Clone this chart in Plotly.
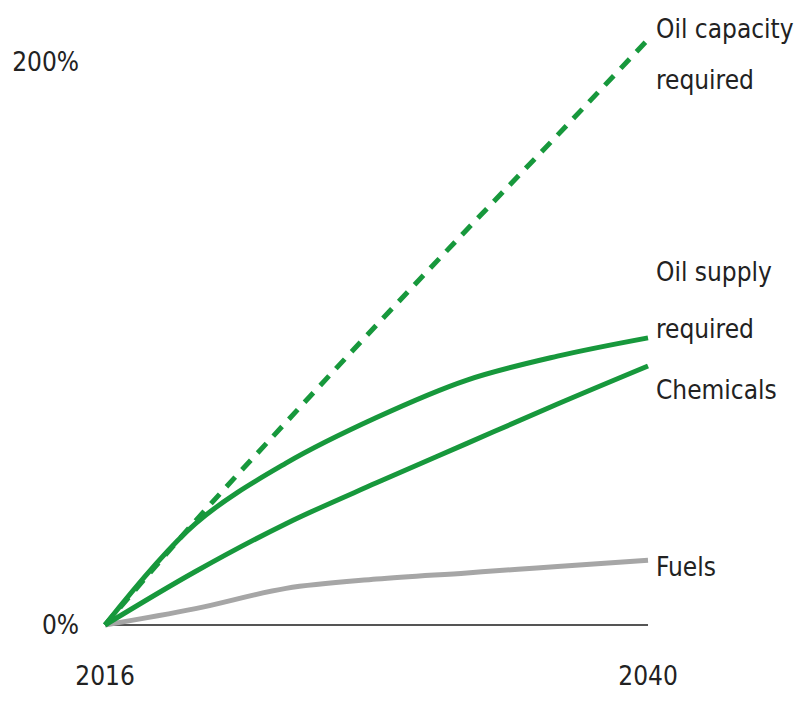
import plotly.graph_objects as go

years = [2016, 2020, 2024, 2028, 2032, 2036, 2040]
oil_capacity = [0, 37, 72, 106.5, 140.5, 174, 208]
oil_supply = [0, 36, 57.5, 73.7, 87, 95.5, 102]
chemicals = [0, 19, 36, 50.5, 64.5, 78.5, 92]
fuels = [0, 5.8, 13, 16.3, 18.5, 20.8, 23]

series_names = ["Oil capacity required", "Oil supply required", "Chemicals", "Fuels"]
# each end label split into lines: (series index, text, vertical shift in px)
label_lines = [
    (0, "Oil capacity", 10),
    (0, "required", -41),
    (1, "Oil supply", 66),
    (1, "required", 9),
    (2, "Chemicals", -24),
    (3, "Fuels", -7),
]

x_ticks = [2016, 2040]
y_ticks = [0, 200]
y_ticktext = ["0%", "200%"]

GREEN = "#17983c"
GRAY = "#a6a6a6"
TEXT = "#222222"
FONT = "DejaVu Sans Condensed, Liberation Sans Narrow, DejaVu Sans, sans-serif"


def fnt(size):
    return dict(family=FONT, size=size, color=TEXT)


fig = go.Figure()

# zero baseline
fig.add_trace(go.Scatter(x=[x_ticks[0], x_ticks[-1]], y=[0, 0], mode="lines",
                         line=dict(color="#555555", width=2), hoverinfo="skip"))

series = [
    (oil_capacity, GREEN, "13px,10px"),
    (oil_supply, GREEN, "solid"),
    (chemicals, GREEN, "solid"),
    (fuels, GRAY, "solid"),
]
# draw fuels first so greens are on top
for (vals, col, dash), name in reversed(list(zip(series, series_names))):
    fig.add_trace(go.Scatter(x=years, y=vals, mode="lines", name=name,
                             line=dict(color=col, width=5, dash=dash, shape="spline", smoothing=1)))

for idx, txt, ys in label_lines:
    vals = series[idx][0]
    fig.add_annotation(x=years[-1], y=vals[-1], text=txt, showarrow=False,
                       xanchor="left", yanchor="middle", align="left",
                       xshift=6, yshift=ys, font=fnt(26))

fig.update_layout(
    width=795, height=704,
    margin=dict(l=80, r=125, t=20, b=60),
    paper_bgcolor="white", plot_bgcolor="white",
    showlegend=False,
    font=fnt(26),
    xaxis=dict(range=[2014.895, 2040.972], tickvals=x_ticks, ticktext=[str(v) for v in x_ticks],
               showgrid=False, zeroline=False, showline=False, automargin=False,
               ticks="outside", ticklen=9, tickcolor="rgba(0,0,0,0)", tickfont=fnt(26)),
    yaxis=dict(range=[-6.75, 214.9], tickvals=y_ticks, ticktext=y_ticktext,
               showgrid=False, zeroline=False, showline=False, automargin=False,
               ticks="", tickfont=fnt(26)),
)

fig.write_html("out.html")
